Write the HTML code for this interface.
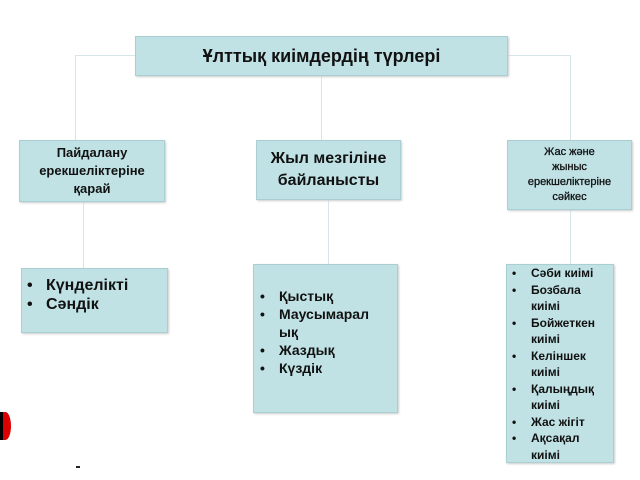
<!DOCTYPE html>
<html><head><meta charset="utf-8"><style>
body{margin:0;width:640px;height:480px;background:#fff;position:relative;overflow:hidden;font-family:"Liberation Sans",sans-serif;font-weight:bold;color:#111}
.b{position:absolute;background:#c0e2e5;border:1px solid #a9cfd2;box-sizing:border-box;box-shadow:1px 1px 2px #ccc}
.c{display:flex;align-items:center;justify-content:center;text-align:center}
.l{position:absolute;background:#d6e6e8}
ul{margin:0;padding:0 0 0 24px}
li{list-style:none;position:relative;white-space:nowrap}
li:before{content:"•";position:absolute;left:-19px}
</style></head><body>
<div class="l" style="left:75px;top:55px;width:60px;height:1px"></div>
<div class="l" style="left:75px;top:55px;width:1px;height:85px"></div>
<div class="l" style="left:508px;top:55px;width:62px;height:1px"></div>
<div class="l" style="left:570px;top:55px;width:1px;height:85px"></div>
<div class="l" style="left:321px;top:76px;width:1px;height:64px"></div>
<div class="l" style="left:83px;top:202px;width:1px;height:66px"></div>
<div class="l" style="left:328px;top:200px;width:1px;height:64px"></div>
<div class="l" style="left:570px;top:210px;width:1px;height:54px"></div>

<div class="b c" style="left:135px;top:36px;width:373px;height:40px;font-size:18px">Ұлттық киімдердің түрлері</div>
<div class="b c" style="left:19px;top:140px;width:146px;height:62px;font-size:13px;line-height:18px">Пайдалану<br>ерекшеліктеріне<br>қарай</div>
<div class="b c" style="left:256px;top:140px;width:145px;height:60px;font-size:16px;line-height:22px">Жыл мезгіліне<br>байланысты</div>
<div class="b c" style="left:507px;top:140px;width:125px;height:70px;font-size:11px;line-height:15px;font-weight:normal;-webkit-text-stroke:0.3px #111">Жас және<br>жыныс<br>ерекшеліктеріне<br>сәйкес</div>

<div class="b" style="left:21px;top:268px;width:147px;height:65px;font-size:16px;line-height:19px;padding-top:7px"><ul><li>Күнделікті</li><li>Сәндік</li></ul></div>
<div class="b" style="left:253px;top:264px;width:145px;height:149px;font-size:14px;line-height:18px;padding-top:22px"><ul style="padding-left:25px"><li>Қыстық</li><li>Маусымарал<br>ық</li><li>Жаздық</li><li>Күздік</li></ul></div>
<div class="b" style="left:506px;top:264px;width:108px;height:199px;font-size:12px;line-height:16.5px;padding-top:0"><ul style="padding-left:24px"><li>Сәби киімі</li><li>Бозбала<br>киімі</li><li>Бойжеткен<br>киімі</li><li>Келіншек<br>киімі</li><li>Қалыңдық<br>киімі</li><li>Жас жігіт</li><li>Ақсақал<br>киімі</li></ul></div>

<div style="position:absolute;left:0;top:412px;width:11px;height:28px;background:#d00;border-radius:0 50% 50% 0/0 50% 50% 0;border-left:3px solid #000;box-sizing:border-box"></div>
<div style="position:absolute;left:76px;top:466px;width:4px;height:2px;background:#222"></div>
</body></html>
